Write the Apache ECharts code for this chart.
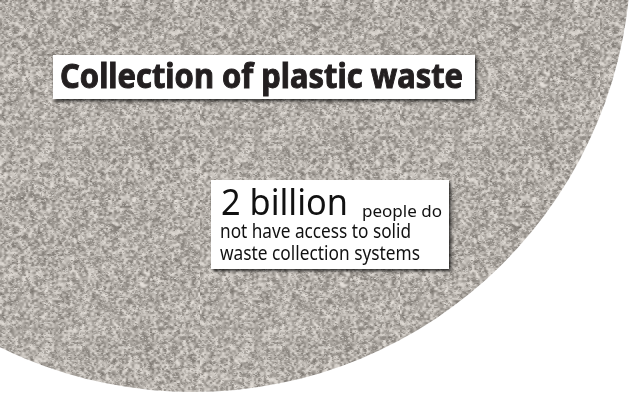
<!DOCTYPE html>
<html>
<head>
<meta charset="utf-8">
<script src="https://cdn.jsdelivr.net/npm/echarts@6/dist/echarts.min.js"></script>
<style>
  html, body { margin: 0; padding: 0; background: #fff; }
  #chart { width: 635px; height: 394px; }
</style>
</head>
<body>
<div id="chart"></div>
<script>
// values
const headline = ['Collection of plastic waste'];
const statFigure = ['2 billion'];
const statLines = ['people do', 'not have access to solid', 'waste collection systems'];
const population = [{ name: 'People without solid waste collection (billion)', value: 2 }];

// grainy grey fill for the big disc (seeded, so the same every run)
const makeGrain = () => {
    let seed = 11;
    const rnd = () => (seed = (seed * 16807) % 2147483647) / 2147483647;
    const n = 100;
    const small = document.createElement('canvas');
    small.width = small.height = n;
    const sctx = small.getContext('2d');
    const img = sctx.createImageData(n, n);
    for (let i = 0; i < n * n; i++) {
        const g = 118 + rnd() * 108;
        img.data[i * 4] = g + 7;
        img.data[i * 4 + 1] = g + 2;
        img.data[i * 4 + 2] = g - 4;
        img.data[i * 4 + 3] = 255;
    }
    sctx.putImageData(img, 0, 0);
    const big = document.createElement('canvas');
    big.width = big.height = n * 2;
    const ctx = big.getContext('2d');
    ctx.imageSmoothingEnabled = true;
    ctx.drawImage(small, 0, 0, n * 2, n * 2);
    for (let i = 0; i < 6000; i++) {
        const light = rnd() > 0.5;
        ctx.fillStyle = light ? 'rgba(228,224,219,0.4)' : 'rgba(110,103,97,0.35)';
        ctx.fillRect(Math.floor(rnd() * n * 2), Math.floor(rnd() * n * 2), 1 + Math.floor(rnd() * 2), 1);
    }
    return big;
};

const measure = document.createElement('canvas').getContext('2d');
const fitScale = (text, font, width) => {
    measure.font = font;
    return width / measure.measureText(text).width;
};

const titleFont = 'bold 34px "Noto Sans"';
const bigFont = '36px "Noto Sans"';
const smallFont = '16px "Noto Sans"';
const bodyFont = '20px "Noto Sans"';

const textEl = (text, font, x, y, width, color, stroke) => ({
    type: 'text',
    x: x,
    y: y,
    scaleX: fitScale(text, font, width),
    z: 20,
    style: {
        text: text,
        x: 0,
        y: 0,
        font: font,
        fill: color,
        stroke: stroke ? color : null,
        lineWidth: stroke || 0,
        verticalAlign: 'middle'
    }
});

const boxEl = (x, y, w, h) => ({
    type: 'rect',
    shape: { x: x, y: y, width: w, height: h },
    z: 10,
    style: {
        fill: '#ffffff',
        shadowBlur: 3,
        shadowOffsetX: 2,
        shadowOffsetY: 2,
        shadowColor: 'rgba(0,0,0,0.75)'
    }
});

const myChart = echarts.init(document.getElementById('chart'));

const option = {
    backgroundColor: '#ffffff',
    animation: false,
    series: [
        {
            type: 'pie',
            center: [193, -46],
            radius: 438,
            silent: true,
            label: { show: false },
            labelLine: { show: false },
            itemStyle: {
                color: { image: makeGrain(), repeat: 'repeat' },
                borderWidth: 0
            },
            data: population
        }
    ],
    graphic: [
        boxEl(53, 55, 422, 44),
        textEl(headline[0], titleFont, 60, 78, 403, '#231f20', 1),
        boxEl(211, 180, 238, 89),
        textEl(statFigure[0], bigFont, 221, 205, 127, '#111111'),
        textEl(statLines[0], smallFont, 362, 212, 80, '#111111'),
        textEl(statLines[1], bodyFont, 220, 232, 191, '#111111'),
        textEl(statLines[2], bodyFont, 220, 254, 200, '#111111')
    ]
};

option && myChart.setOption(option);
</script>
</body>
</html>
